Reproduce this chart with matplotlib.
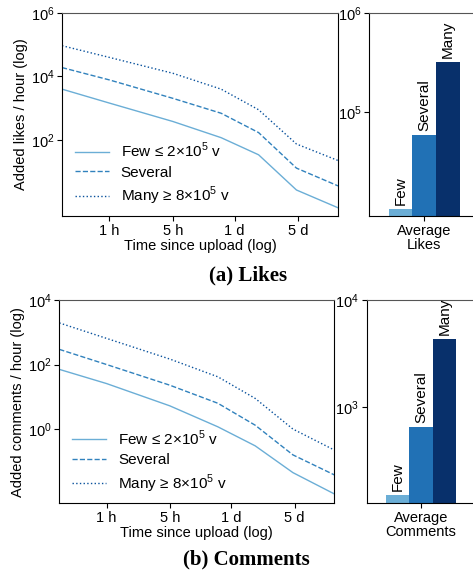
import matplotlib
matplotlib.use("Agg")
import matplotlib.pyplot as plt
import numpy as np

plt.rcParams['font.family'] = ['Liberation Sans', 'DejaVu Sans']
plt.rcParams['mathtext.fontset'] = 'custom'
plt.rcParams['mathtext.rm'] = 'Liberation Sans'
plt.rcParams['font.size'] = 10.5

# hours since upload
hours = [0.3, 1, 5, 17, 44, 115, 330]

# log10 of added likes / hour
likes_few = [3.60, 3.16, 2.58, 2.07, 1.53, 0.42, -0.14]
likes_several = [4.28, 3.89, 3.31, 2.84, 2.23, 1.11, 0.55]
likes_many = [4.97, 4.60, 4.10, 3.60, 2.95, 1.87, 1.35]

# log10 of added comments / hour
comm_few = [1.85, 1.41, 0.72, 0.07, -0.52, -1.35, -2.01]
comm_several = [2.47, 2.00, 1.36, 0.80, 0.12, -0.80, -1.42]
comm_many = [3.29, 2.81, 2.17, 1.62, 0.95, 0.00, -0.65]

groups = ["Few", "Several", "Many"]
avg_likes = [1.05e4, 5.8e4, 3.2e5]
avg_comments = [148, 645, 4300]

legend_labels = ["Few \u2264 2\u00d710$^5$ v", "Several", "Many \u2265 8\u00d710$^5$ v"]
line_colors = ["#6baed6", "#3182bd", "#08519c"]
bar_colors = ["#6baed6", "#2171b5", "#08306b"]
styles = ["-", "--", ":"]

xticks = [1, 5, 24, 120]
xticklabels = ["1 h", "5 h", "1 d", "5 d"]

fig = plt.figure(figsize=(4.73, 5.71), dpi=100)


def line_panel(rect, series, ylim, yticks, ylabel):
    ax = fig.add_axes(rect)
    for s, c, ls, lab in zip(series, line_colors, styles, legend_labels):
        ax.plot(hours, 10 ** np.array(s), color=c, linestyle=ls, lw=1, label=lab)
    ax.set_xscale("log")
    ax.set_yscale("log")
    ax.set_xlim(0.3, 330)
    ax.set_ylim(*ylim)
    ax.set_xticks(xticks)
    ax.set_xticklabels(xticklabels)
    ax.set_yticks(yticks)
    ax.minorticks_off()
    ax.set_xlabel("Time since upload (log)", labelpad=1)
    ax.set_ylabel(ylabel, labelpad=2)
    ax.spines["top"].set_color("#555555")
    ax.tick_params(length=3.5, pad=2)
    ax.legend(loc="lower left", bbox_to_anchor=(0, -0.022), frameon=False,
              handlelength=2.2, fontsize=11, handletextpad=0.8,
              labelspacing=0.35, borderaxespad=0.45)
    return ax


def bar_panel(rect, vals, ylim, yticks, xlabel):
    ax = fig.add_axes(rect)
    xs = np.arange(len(groups)) - 1
    ax.bar(xs, vals, width=1, color=bar_colors)
    ax.set_yscale("log")
    ax.set_ylim(*ylim)
    ax.set_xlim(-2.32, 2.32)
    ax.set_yticks(yticks)
    ax.minorticks_off()
    ax.set_xticks([0])
    ax.set_xticklabels([xlabel], linespacing=1.0)
    for x, v, g in zip(xs, vals, groups):
        ax.annotate(g, (x, v), xytext=(0, 3), textcoords="offset points",
                    rotation=90, ha="center", va="bottom", fontsize=11)
    ax.spines["top"].set_color("#555555")
    ax.spines["right"].set_visible(False)
    ax.tick_params(length=3.5, pad=2)
    return ax


line_panel([0.1311, 0.6217, 0.5835, 0.3555], [likes_few, likes_several, likes_many],
           (10 ** -0.4, 1e6), [1e2, 1e4, 1e6], "Added likes / hour (log)")
bar_panel([0.7808, 0.6217, 0.232, 0.3555], avg_likes,
          (10 ** 3.95, 1e6), [1e5, 1e6], "Average\nLikes")

line_panel([0.1254, 0.1186, 0.5814, 0.356], [comm_few, comm_several, comm_many],
           (10 ** -2.3, 1e4), [1e0, 1e2, 1e4], "Added comments / hour (log)")
bar_panel([0.7753, 0.1186, 0.2296, 0.356], avg_comments,
          (10 ** 2.095, 1e4), [1e3, 1e4], "Average\nComments")

fig.text(248 / 473, 1 - 275 / 571, "(a) Likes", ha="center", va="center",
         family="Liberation Serif", weight="bold", fontsize=15)
fig.text(246 / 473, 1 - 559 / 571, "(b) Comments", ha="center", va="center",
         family="Liberation Serif", weight="bold", fontsize=15)

fig.savefig("out.png", dpi=100)
